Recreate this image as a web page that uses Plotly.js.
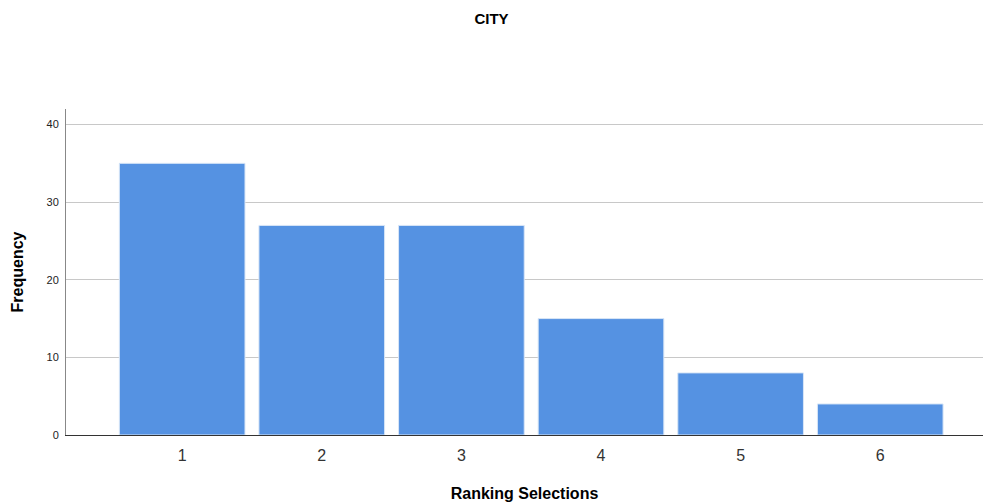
<!DOCTYPE html>
<html><head><meta charset="utf-8">
<script src="https://cdn.plot.ly/plotly-3.0.1.min.js"></script>
<style>body{margin:0;padding:0;background:#fff}#chart{width:983px;height:504px}</style>
</head><body><div id="chart"></div>
<script>
var categories = [1, 2, 3, 4, 5, 6];
var frequencies = [35, 27, 27, 15, 8, 4];
var yTicks = [0, 10, 20, 30, 40];

var trace = {
  type: 'bar',
  x: categories,
  y: frequencies,
  width: 0.9,
  marker: {color: '#5592e2', line: {color: '#d8e6f7', width: 1}},
  hoverinfo: 'x+y'
};

var layout = {
  width: 983, height: 504,
  margin: {l: 66, r: 0, t: 109, b: 69},
  paper_bgcolor: '#fff', plot_bgcolor: '#fff',
  font: {family: 'Liberation Sans, Arial, sans-serif', color: '#000'},
  title: {text: 'CITY', font: {size: 15, color: '#000', weight: 'bold'}, x: 0.5, xanchor: 'center', y: 0.962, yanchor: 'middle'},
  xaxis: {
    range: [0.168, 6.736],
    tickvals: categories,
    ticktext: categories.map(String),
    ticks: '', showgrid: false, zeroline: false,
    showline: true, linecolor: '#333', linewidth: 1,
    tickfont: {size: 16, color: '#333'},
    ticklabelstandoff: 6,
    title: {text: 'Ranking Selections', font: {size: 16, color: '#000', weight: 'bold'}, standoff: 24}
  },
  yaxis: {
    range: [0, 42],
    tickvals: yTicks,
    ticks: '', showgrid: true, gridcolor: '#c8c8c8', gridwidth: 1,
    zeroline: false, showline: true, linecolor: '#888', linewidth: 1,
    tickfont: {size: 11, color: '#222'},
    ticklabelstandoff: 4,
    title: {text: 'Frequency', font: {size: 16, color: '#000', weight: 'bold'}, standoff: 18}
  },
  showlegend: false
};

Plotly.newPlot('chart', [trace], layout, {displayModeBar: false, staticPlot: true});
</script></body></html>
